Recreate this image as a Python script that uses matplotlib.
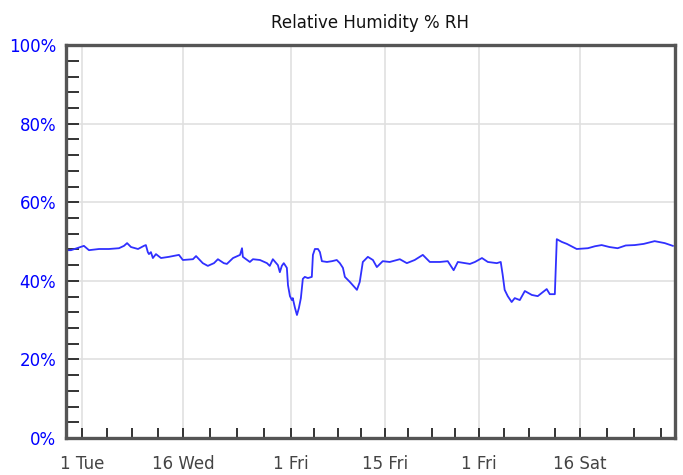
import pandas as pd
import matplotlib
matplotlib.use("Agg")
import matplotlib.pyplot as plt

# readings (time, %RH)
times = [
    "2018-12-29 15:00", "2018-12-30 09:00", "2019-01-01 07:00", "2019-01-02 01:00",
    "2019-01-03 13:00", "2019-01-05 00:00", "2019-01-06 12:00", "2019-01-07 06:00",
    "2019-01-07 17:00", "2019-01-08 07:00", "2019-01-09 08:00", "2019-01-10 05:00",
    "2019-01-10 12:00", "2019-01-10 19:00", "2019-01-10 23:00", "2019-01-11 06:00",
    "2019-01-11 13:00", "2019-01-12 00:00", "2019-01-12 18:00", "2019-01-13 22:00",
    "2019-01-15 10:00", "2019-01-16 00:00", "2019-01-17 12:00", "2019-01-17 23:00",
    "2019-01-18 23:00", "2019-01-19 17:00", "2019-01-20 15:00", "2019-01-21 05:00",
    "2019-01-22 02:00", "2019-01-22 13:00", "2019-01-23 11:00", "2019-01-24 12:00",
    "2019-01-24 19:00", "2019-01-24 22:00", "2019-01-25 23:00", "2019-01-26 10:00",
    "2019-01-27 11:00", "2019-01-28 12:00", "2019-01-28 22:00", "2019-01-29 09:00",
    "2019-01-30 03:00", "2019-01-30 10:00", "2019-01-30 17:00", "2019-01-31 00:00",
    "2019-01-31 11:00", "2019-01-31 15:00", "2019-01-31 22:00", "2019-02-01 05:00",
    "2019-02-01 08:00", "2019-02-01 16:00", "2019-02-01 23:00", "2019-02-02 06:00",
    "2019-02-02 13:00", "2019-02-02 20:00", "2019-02-03 03:00", "2019-02-03 14:00",
    "2019-02-04 04:00", "2019-02-04 08:00", "2019-02-04 15:00", "2019-02-05 02:00",
    "2019-02-05 09:00", "2019-02-05 16:00", "2019-02-06 10:00", "2019-02-07 04:00",
    "2019-02-07 21:00", "2019-02-08 08:00", "2019-02-08 19:00", "2019-02-09 02:00",
    "2019-02-09 20:00", "2019-02-10 21:00", "2019-02-11 07:00", "2019-02-11 18:00",
    "2019-02-12 12:00", "2019-02-13 06:00", "2019-02-13 20:00", "2019-02-14 17:00",
    "2019-02-15 18:00", "2019-02-17 06:00", "2019-02-18 07:00", "2019-02-19 11:00",
    "2019-02-20 16:00", "2019-02-21 17:00", "2019-02-23 05:00", "2019-02-24 09:00",
    "2019-02-25 06:00", "2019-02-25 21:00", "2019-02-27 16:00", "2019-02-28 10:00",
    "2019-03-01 11:00", "2019-03-02 08:00", "2019-03-03 16:00", "2019-03-04 06:00",
    "2019-03-04 13:00", "2019-03-04 20:00", "2019-03-05 07:00", "2019-03-05 21:00",
    "2019-03-06 08:00", "2019-03-07 02:00", "2019-03-07 20:00", "2019-03-08 21:00",
    "2019-03-09 18:00", "2019-03-11 02:00", "2019-03-11 13:00", "2019-03-12 07:00",
    "2019-03-12 14:00", "2019-03-13 08:00", "2019-03-14 02:00", "2019-03-15 13:00",
    "2019-03-17 05:00", "2019-03-18 06:00", "2019-03-19 06:00", "2019-03-20 10:00",
    "2019-03-21 15:00", "2019-03-22 20:00", "2019-03-24 04:00", "2019-03-25 12:00",
    "2019-03-27 03:00", "2019-03-28 15:00", "2019-03-29 20:00",
]
rh = [
    47.8, 47.8, 48.9, 47.8, 48.1, 48.1, 48.3, 48.9,
    49.6, 48.6, 48.1, 48.9, 49.1, 47.3, 46.8, 47.3,
    45.8, 46.8, 45.8, 46.1, 46.6, 45.3, 45.5, 46.3,
    44.5, 43.8, 44.5, 45.5, 44.5, 44.3, 45.8, 46.6,
    48.3, 46.1, 44.8, 45.5, 45.3, 44.5, 43.8, 45.5,
    44.0, 42.2, 43.8, 44.5, 43.3, 38.9, 36.1, 35.1,
    35.6, 33.1, 31.3, 33.1, 35.6, 40.5, 41.0, 40.7,
    41.0, 46.6, 48.1, 48.1, 47.3, 45.0, 44.8, 45.0,
    45.3, 44.5, 43.3, 41.0, 39.7, 37.7, 39.7, 44.8,
    46.1, 45.3, 43.5, 45.0, 44.8, 45.5, 44.5, 45.3,
    46.6, 44.8, 44.8, 45.0, 42.7, 44.8, 44.3, 44.8,
    45.8, 44.8, 44.5, 44.8, 41.5, 37.7, 36.1, 34.6,
    35.6, 35.1, 37.4, 36.4, 36.1, 37.9, 36.6, 36.6,
    50.6, 49.9, 49.4, 48.1, 48.3, 48.8, 49.1, 48.6,
    48.3, 49.0, 49.1, 49.4, 50.1, 49.6, 48.9,
]

major_dates = ["2019-01-01", "2019-01-16", "2019-02-01", "2019-02-15", "2019-03-01", "2019-03-16"]
major_labels = ["1 Tue", "16 Wed", "1 Fri", "15 Fri", "1 Fri", "16 Sat"]
minor_dates = ["2019-01-04 18:00", "2019-01-08 12:00", "2019-01-12 06:00",
               "2019-01-20 00:00", "2019-01-24 00:00", "2019-01-28 00:00",
               "2019-02-04 12:00", "2019-02-08 00:00", "2019-02-11 12:00",
               "2019-02-18 12:00", "2019-02-22 00:00", "2019-02-25 12:00",
               "2019-03-04 18:00", "2019-03-08 12:00", "2019-03-12 06:00",
               "2019-03-20 00:00", "2019-03-24 00:00", "2019-03-28 00:00"]

t = pd.to_datetime(times)

fig = plt.figure(figsize=(6.83, 4.75), dpi=100)
ax = fig.add_axes([0.0966, 0.078, 0.8914, 0.827])

ax.plot(t, rh, color="#3030ff", lw=1.3)

ax.set_xlim(pd.Timestamp("2018-12-29 15:00"), pd.Timestamp("2019-03-30 03:00"))
ax.set_ylim(0, 100)

ax.set_xticks(pd.to_datetime(major_dates, format="ISO8601"))
ax.set_xticklabels(major_labels)
ax.set_xticks(pd.to_datetime(minor_dates, format="ISO8601"), minor=True)
ax.set_yticks(range(0, 101, 20))
ax.set_yticklabels([f"{v}%" for v in range(0, 101, 20)])
ax.set_yticks(range(0, 101, 4), minor=True)

ax.grid(True, which="major", color="#e0e0e0", lw=1.2)
ax.set_axisbelow(True)

for s in ax.spines.values():
    s.set_color("#555555")
    s.set_linewidth(2.4)

ax.tick_params(axis="x", which="both", direction="in", length=7, width=1.4,
               color="#333333", labelsize=12, labelcolor="#444444", pad=12)
ax.tick_params(axis="y", which="both", direction="in", length=9, width=1.4,
               color="#333333", labelsize=12, labelcolor="#0000ff", pad=7)

ax.set_title("Relative Humidity % RH", fontsize=12, color="#111111", pad=12)

fig.savefig("out.png", dpi=100)
